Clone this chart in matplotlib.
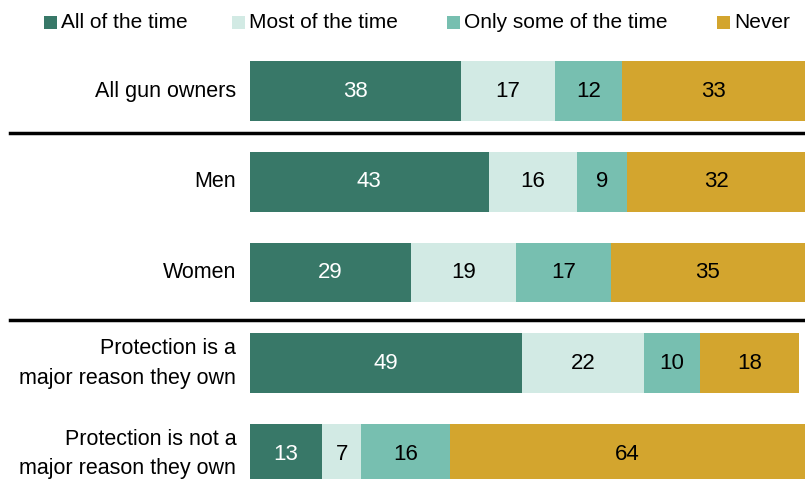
import numpy as np
import matplotlib.pyplot as plt
from matplotlib.patches import Rectangle
from matplotlib.lines import Line2D

plt.rcParams['font.family'] = ['Liberation Sans', 'DejaVu Sans']

# Groupes et réponses
groupes = ["All gun owners", "Men", "Women",
           "Protection is a\nmajor reason they own",
           "Protection is not a\nmajor reason they own"]
reponses = ["All of the time", "Most of the time", "Only some of the time", "Never"]

tout_le_temps = [38, 43, 29, 49, 13]
la_plupart = [17, 16, 19, 22, 7]
parfois = [12, 9, 17, 10, 16]
jamais = [33, 32, 35, 18, 64]

couleurs = ["#387868", "#d2eae4", "#77bfb0", "#d3a52e"]
couleurs_texte = ["white", "black", "black", "black"]

fig = plt.figure(figsize=(8.05, 4.79), dpi=100)
ax = fig.add_axes([250 / 805, 0, 555 / 805, 1])

series = [tout_le_temps, la_plupart, parfois, jamais]
y = np.arange(len(groupes))
gauche = np.zeros(len(groupes))
for valeurs, coul, ctexte in zip(series, couleurs, couleurs_texte):
    valeurs = np.array(valeurs)
    barres = ax.barh(y, valeurs, left=gauche, height=0.66, color=coul, edgecolor='none')
    for b, v in zip(barres, valeurs):
        ax.text(b.get_x() + b.get_width() / 2, b.get_y() + b.get_height() / 2, str(v),
                ha='center', va='center', color=ctexte, fontsize=16)
    gauche += valeurs

ax.set_xlim(0, 100)
ax.set_ylim(4.275, -1.003)
ax.axis('off')

# Étiquettes des groupes à gauche
for yi, nom in zip(y, groupes):
    ax.text(-2.5, yi, nom, ha='right', va='center', fontsize=15.5, linespacing=1.55)

# Séparateurs entre les groupes
for ysep in [0.463, 2.52]:
    yf = ax.transData.transform((0, ysep))[1] / fig.bbox.height
    fig.add_artist(Line2D([10 / 805, 1], [yf, yf], color='black', lw=2.5))

# Légende en haut
pos_legende = [44, 232, 447, 717]
for x0, nom, coul in zip(pos_legende, reponses, couleurs):
    fig.add_artist(Rectangle((x0 / 805, 1 - 29 / 479), 13 / 805, 13 / 479,
                             facecolor=coul, edgecolor='none'))
    fig.text((x0 + 17) / 805, 1 - 22.5 / 479, nom, ha='left', va='center', fontsize=15)

fig.savefig("out.png", dpi=100)
